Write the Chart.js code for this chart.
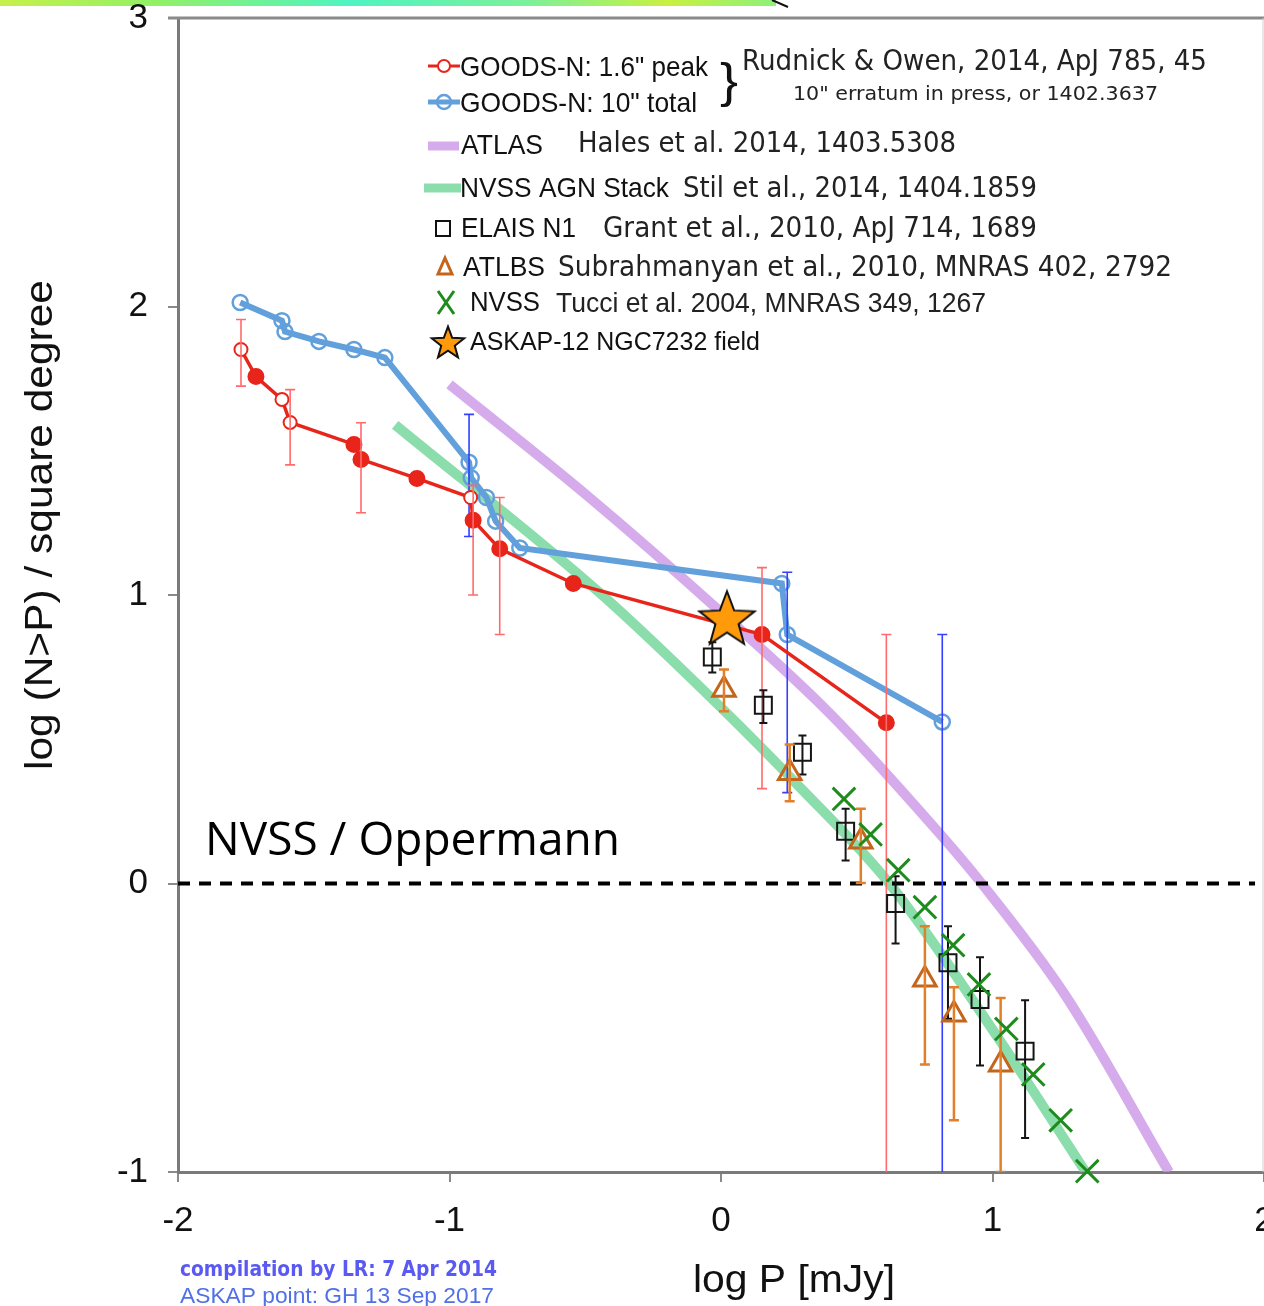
<!DOCTYPE html>
<html>
<head>
<meta charset="utf-8">
<script src="https://cdn.jsdelivr.net/npm/chart.js@4.4.1/dist/chart.umd.min.js"></script>
<style>
  html, body { margin: 0; padding: 0; background: #fff; }
  #wrap { width: 1264px; height: 1306px; }
</style>
</head>
<body>
<div id="wrap"><canvas id="counts" width="1264" height="1306" style="width:1264px;height:1306px"></canvas></div>
<script>
// GOODS-N 1.6" peak (Rudnick & Owen 2014)
const xPeak = [-1.768, -1.713, -1.617, -1.587, -1.352, -1.326, -1.120, -0.922, -0.913, -0.815, -0.544, 0.151, 0.609];
const yPeak = [1.851, 1.757, 1.678, 1.598, 1.522, 1.470, 1.404, 1.338, 1.259, 1.160, 1.040, 0.863, 0.557];
const peakOpen = [1, 0, 1, 1, 0, 0, 0, 1, 0, 0, 0, 0, 0];
const peakHi = [1.955, null, null, 1.712, null, 1.597, null, null, 1.38, 1.338, null, 1.095, 0.863];
const peakLo = [1.724, null, null, 1.451, null, 1.285, null, null, 1.0, 0.863, null, 0.329, -1.2];

// GOODS-N 10" total
const xTotal = [-1.771, -1.617, -1.606, -1.481, -1.352, -1.238, -0.928, -0.920, -0.864, -0.830, -0.741, 0.224, 0.244, 0.815];
const yTotal = [2.014, 1.951, 1.913, 1.879, 1.851, 1.823, 1.460, 1.406, 1.338, 1.256, 1.163, 1.040, 0.863, 0.560];
const totalHi = [null, null, null, null, null, null, 1.626, null, null, null, null, null, 1.079, 0.863];
const totalLo = [null, null, null, null, null, null, 1.203, null, null, null, null, null, 0.315, -1.2];

// ATLAS (Hales et al. 2014) curve
const xAtlas = [-1.0, -0.5, 0, 0.4, 0.78, 0.96, 1.27, 1.65];
const yAtlas = [1.73, 1.35, 0.94, 0.59, 0.2, 0.0, -0.39, -1.0];

// NVSS AGN stack (Stil et al. 2014) curve
const xStack = [-1.2, -0.45, 0, 0.287, 0.62, 1.024, 1.343];
const yStack = [1.59, 1.01, 0.61, 0.337, 0.0, -0.54, -1.0];

// ELAIS N1 (Grant et al. 2010)
const xElais = [-0.032, 0.156, 0.300, 0.459, 0.643, 0.836, 0.954, 1.120];
const yElais = [0.785, 0.618, 0.455, 0.181, -0.069, -0.275, -0.402, -0.581];
const elaisHi = [0.836, 0.670, 0.513, 0.259, 0.025, -0.148, -0.256, -0.405];
const elaisLo = [0.731, 0.556, 0.378, 0.080, -0.208, -0.469, -0.631, -0.882];

// ATLBS (Subrahmanyan et al. 2010)
const xAtlbs = [0.011, 0.253, 0.515, 0.751, 0.858, 1.030];
const yAtlbs = [0.672, 0.383, 0.146, -0.333, -0.454, -0.627];
const atlbsHi = [0.742, 0.482, 0.259, -0.148, -0.36, -0.397];
const atlbsLo = [0.597, 0.285, 0.002, -0.627, -0.821, -1.0];

// NVSS (Tucci et al. 2004)
const xNvss = [0.453, 0.551, 0.653, 0.751, 0.855, 0.950, 1.051, 1.150, 1.251, 1.349];
const yNvss = [0.293, 0.170, 0.046, -0.082, -0.214, -0.350, -0.504, -0.662, -0.821, -0.997];

// ASKAP-12 NGC7232 field
const xAskap = [0.022];
const yAskap = [0.922];

// NVSS / Oppermann level
const xLevel = [-2, 1.967];
const yLevel = [0, 0];

const xTicks = [-2, -1, 0, 1, 2];
const yTicks = [-1, 0, 1, 2, 3];

const RED = '#e8251a', BLUE = '#62a0dc', PURPLE = 'rgba(202,150,230,0.8)', GREEN = 'rgba(110,212,150,0.8)';
const ORANGE = '#c4651c', XGREEN = '#1d8c1d';

const pts = (xs, ys) => xs.map((x, i) => ({ x, y: ys[i] }));

function makeStar(R, ratio) {
    const c = document.createElement('canvas');
    const s = Math.ceil(R * 2 + 6);
    c.width = s; c.height = s;
    const g = c.getContext('2d');
    g.translate(s / 2, s / 2 + R * 0.095);
    g.beginPath();
    for (let k = 0; k < 10; k++) {
        const a = -Math.PI / 2 + k * Math.PI / 5;
        const rr = k % 2 ? R * ratio : R;
        g.lineTo(Math.cos(a) * rr, Math.sin(a) * rr);
    }
    g.closePath();
    g.fillStyle = '#ff9a0a';
    g.fill();
    g.lineWidth = 2;
    g.strokeStyle = '#111';
    g.stroke();
    return c;
}
const bigStar = makeStar(29, 0.42);
const smallStar = makeStar(17, 0.42);

// draw text squeezed/stretched to a given width
function fitText(ctx, txt, x, y, w, font, color, base) {
    ctx.save();
    ctx.font = font;
    ctx.fillStyle = color;
    ctx.textAlign = 'left';
    ctx.textBaseline = base || 'middle';
    const nat = ctx.measureText(txt).width;
    ctx.translate(x, y);
    ctx.scale(w / nat, 1);
    ctx.fillText(txt, 0, 0);
    ctx.restore();
}

function drawErrors(chart, ds) {
    const ctx = chart.ctx, xs = chart.scales.x, ys = chart.scales.y, ca = chart.chartArea;
    ctx.save();
    ctx.beginPath();
    ctx.rect(ca.left, ca.top, ca.right - ca.left, ca.bottom - ca.top);
    ctx.clip();
    ctx.strokeStyle = ds.errColor;
    ctx.lineWidth = ds.errWidth;
    const cap = ds.errCap;
    ds.data.forEach((p, i) => {
        const hi = ds.errHi[i], lo = ds.errLo[i];
        if (hi == null) return;
        const px = xs.getPixelForValue(p.x);
        const y1 = ys.getPixelForValue(hi), y2 = ys.getPixelForValue(lo);
        ctx.beginPath();
        ctx.moveTo(px, y1); ctx.lineTo(px, y2);
        ctx.moveTo(px - cap, y1); ctx.lineTo(px + cap, y1);
        ctx.moveTo(px - cap, y2); ctx.lineTo(px + cap, y2);
        ctx.stroke();
    });
    ctx.restore();
}

function drawLegend(ctx) {
    const narrow = 'px "Liberation Sans Narrow", "Liberation Sans", Arial, sans-serif';
    const arial = 'px "Liberation Sans", Arial, sans-serif';
    const deja = 'px "DejaVu Sans", Verdana, sans-serif';
    ctx.save();
    ctx.lineCap = 'butt';
    // row 1: red
    ctx.strokeStyle = RED; ctx.lineWidth = 3;
    ctx.beginPath(); ctx.moveTo(428, 66); ctx.lineTo(460, 66); ctx.stroke();
    ctx.fillStyle = '#fff'; ctx.lineWidth = 2;
    ctx.beginPath(); ctx.arc(444, 66, 6, 0, Math.PI * 2); ctx.fill(); ctx.stroke();
    // row 2: blue
    ctx.strokeStyle = BLUE; ctx.lineWidth = 5;
    ctx.beginPath(); ctx.moveTo(428, 102); ctx.lineTo(460, 102); ctx.stroke();
    ctx.lineWidth = 2.5;
    ctx.beginPath(); ctx.arc(444, 102, 7, 0, Math.PI * 2); ctx.stroke();
    // row 3: purple bar
    ctx.strokeStyle = PURPLE; ctx.lineWidth = 9;
    ctx.beginPath(); ctx.moveTo(428, 146); ctx.lineTo(459, 146); ctx.stroke();
    // row 4: green bar
    ctx.strokeStyle = GREEN;
    ctx.beginPath(); ctx.moveTo(424, 188); ctx.lineTo(461, 188); ctx.stroke();
    // row 5: square
    ctx.strokeStyle = '#111'; ctx.lineWidth = 2;
    ctx.strokeRect(436, 221, 14, 15);
    // row 6: triangle
    ctx.strokeStyle = ORANGE; ctx.lineWidth = 3;
    ctx.beginPath(); ctx.moveTo(445, 258); ctx.lineTo(452, 274); ctx.lineTo(438, 274); ctx.closePath(); ctx.stroke();
    // row 7: green X
    ctx.strokeStyle = XGREEN; ctx.lineWidth = 3;
    ctx.beginPath(); ctx.moveTo(438, 291); ctx.lineTo(454, 314); ctx.moveTo(454, 291); ctx.lineTo(438, 314); ctx.stroke();
    // row 8: star
    ctx.drawImage(smallStar, 448 - smallStar.width / 2, 342 - smallStar.height / 2);
    ctx.restore();

    fitText(ctx, 'GOODS-N: 1.6" peak', 460, 68, 248, '28' + narrow, '#111');
    fitText(ctx, 'GOODS-N: 10" total', 460, 104, 237, '28' + narrow, '#111');
    fitText(ctx, '}', 720, 84, 18, '48' + arial, '#111');
    fitText(ctx, 'Rudnick & Owen, 2014, ApJ 785, 45', 742, 63, 465, '28' + deja, '#222');
    fitText(ctx, '10" erratum in press, or 1402.3637', 793, 95, 365, '20' + deja, '#222');
    fitText(ctx, 'ATLAS', 461, 147, 82, '27' + arial, '#111');
    fitText(ctx, 'Hales et al. 2014, 1403.5308', 578, 145, 378, '28' + deja, '#222');
    fitText(ctx, 'NVSS AGN Stack', 460, 189, 209, '28' + narrow, '#111');
    fitText(ctx, 'Stil et al., 2014, 1404.1859', 683, 190, 354, '28' + deja, '#222');
    fitText(ctx, 'ELAIS N1', 461, 230, 115, '27' + arial, '#111');
    fitText(ctx, 'Grant et al., 2010, ApJ 714, 1689', 603, 230, 434, '28' + deja, '#222');
    fitText(ctx, 'ATLBS', 463, 269, 82, '27' + arial, '#111');
    fitText(ctx, 'Subrahmanyan et al., 2010, MNRAS 402, 2792', 558, 269, 614, '28' + deja, '#222');
    fitText(ctx, 'NVSS', 470, 304, 70, '27' + arial, '#111');
    fitText(ctx, 'Tucci et al. 2004, MNRAS 349, 1267', 556, 304, 430, '28' + narrow, '#222');
    fitText(ctx, 'ASKAP-12 NGC7232 field', 470, 343, 290, '25' + arial, '#111');
}

const decor = {
    id: 'decor',
    beforeDraw(chart) {
        const ctx = chart.ctx;
        ctx.save();
        ctx.fillStyle = '#fff';
        ctx.fillRect(0, 0, chart.width, chart.height);
        // strip left over from the slide above
        const g = ctx.createLinearGradient(0, 0, 776, 0);
        g.addColorStop(0, '#c6f04a');
        g.addColorStop(0.2, '#92f066');
        g.addColorStop(0.45, '#4ef4c2');
        g.addColorStop(0.68, '#7cf09a');
        g.addColorStop(0.86, '#c8f040');
        g.addColorStop(1, '#8ef07a');
        ctx.fillStyle = g;
        ctx.fillRect(0, 0, 776, 6);
        ctx.strokeStyle = '#111';
        ctx.lineWidth = 2;
        ctx.beginPath(); ctx.moveTo(772, 0); ctx.lineTo(788, 7); ctx.stroke();
        ctx.restore();
    },
    afterDatasetDraw(chart, args) {
        const ds = chart.data.datasets[args.index];
        if (ds.errHi) drawErrors(chart, ds);
    },
    afterDraw(chart) {
        const ctx = chart.ctx, ca = chart.chartArea;
        ctx.save();
        ctx.strokeStyle = '#8a8a8a';
        ctx.lineWidth = 3;
        ctx.beginPath(); ctx.moveTo(ca.left - 10, ca.top); ctx.lineTo(ca.right, ca.top); ctx.stroke();
        ctx.strokeStyle = '#d0d0d0';
        ctx.lineWidth = 1;
        ctx.beginPath(); ctx.moveTo(ca.right - 1, ca.top); ctx.lineTo(ca.right - 1, ca.bottom); ctx.stroke();
        ctx.restore();

        drawLegend(ctx);

        fitText(ctx, 'NVSS / Oppermann', 205, 855, 415, '46px "Open Sans", "Noto Sans", sans-serif', '#000', 'alphabetic');
        fitText(ctx, 'log P [mJy]', 693, 1292, 202, '38px "Liberation Sans", Arial, sans-serif', '#111', 'alphabetic');

        ctx.save();
        ctx.translate(52, 770);
        ctx.rotate(-Math.PI / 2);
        fitText(ctx, 'log (N>P) / square degree', 0, 0, 490, '38px "Liberation Sans", Arial, sans-serif', '#111', 'alphabetic');
        ctx.restore();

        fitText(ctx, 'compilation by LR: 7 Apr 2014', 180, 1276, 317, 'bold 21px "DejaVu Sans", sans-serif', '#5a5af2', 'alphabetic');
        fitText(ctx, 'ASKAP point: GH 13 Sep 2017', 180, 1303, 314, '22px "Liberation Sans", Arial, sans-serif', '#4f70e6', 'alphabetic');
    }
};

const tickFont = { family: '"Liberation Sans", Arial, sans-serif', size: 35 };

new Chart(document.getElementById('counts'), {
    type: 'scatter',
    data: {
        datasets: [
            {
                label: 'ASKAP-12 NGC7232 field',
                data: pts(xAskap, yAskap),
                pointStyle: bigStar,
                pointRadius: 29,
                clip: false
            },
            {
                label: 'NVSS',
                data: pts(xNvss, yNvss),
                pointStyle: 'crossRot',
                pointRadius: 16,
                borderColor: XGREEN,
                borderWidth: 3,
                clip: false
            },
            {
                label: 'ATLBS',
                data: pts(xAtlbs, yAtlbs),
                pointStyle: 'triangle',
                pointRadius: 13,
                borderColor: ORANGE,
                backgroundColor: 'rgba(0,0,0,0)',
                borderWidth: 3,
                errHi: atlbsHi, errLo: atlbsLo, errColor: '#e27f2a', errWidth: 2.5, errCap: 5,
                clip: false
            },
            {
                label: 'ELAIS N1',
                data: pts(xElais, yElais),
                pointStyle: 'rect',
                pointRadius: 12,
                borderColor: '#151515',
                backgroundColor: 'rgba(0,0,0,0)',
                borderWidth: 2,
                errHi: elaisHi, errLo: elaisLo, errColor: '#151515', errWidth: 2, errCap: 4,
                clip: false
            },
            {
                label: 'GOODS-N: 1.6" peak',
                data: pts(xPeak, yPeak),
                showLine: true,
                borderColor: RED,
                borderWidth: 3.5,
                pointRadius: peakOpen.map(o => o ? 6.5 : 7.5),
                pointBackgroundColor: peakOpen.map(o => o ? '#fff' : RED),
                pointBorderColor: RED,
                pointBorderWidth: 2,
                errHi: peakHi, errLo: peakLo, errColor: '#ff6b6b', errWidth: 1.6, errCap: 5
            },
            {
                label: 'GOODS-N: 10" total',
                data: pts(xTotal, yTotal),
                showLine: true,
                borderColor: BLUE,
                borderWidth: 6,
                pointRadius: 7.5,
                pointBackgroundColor: 'rgba(255,255,255,0)',
                pointBorderColor: BLUE,
                pointBorderWidth: 2.5,
                errHi: totalHi, errLo: totalLo, errColor: '#3340ff', errWidth: 1.6, errCap: 5
            },
            {
                label: 'NVSS / Oppermann',
                data: pts(xLevel, yLevel),
                showLine: true,
                borderColor: '#000',
                borderWidth: 4,
                borderDash: [12, 9],
                pointRadius: 0
            },
            {
                label: 'NVSS AGN Stack',
                data: pts(xStack, yStack),
                showLine: true,
                borderColor: GREEN,
                borderWidth: 10,
                cubicInterpolationMode: 'monotone',
                pointRadius: 0
            },
            {
                label: 'ATLAS',
                data: pts(xAtlas, yAtlas),
                showLine: true,
                borderColor: PURPLE,
                borderWidth: 10,
                cubicInterpolationMode: 'monotone',
                pointRadius: 0
            }
        ]
    },
    options: {
        responsive: false,
        animation: false,
        events: [],
        layout: { autoPadding: false, padding: { top: 18, left: 0, right: 0, bottom: 0 } },
        plugins: { legend: { display: false }, tooltip: { enabled: false } },
        scales: {
            x: {
                type: 'linear',
                min: xTicks[0],
                max: xTicks[xTicks.length - 1],
                afterBuildTicks: s => { s.ticks = xTicks.map(v => ({ value: v })); },
                ticks: { color: '#111', font: tickFont, padding: 18, maxRotation: 0, autoSkip: false },
                grid: { drawOnChartArea: false, tickLength: 10, color: '#8a8a8a', lineWidth: 2 },
                border: { color: '#7a7a7a', width: 3 },
                afterFit: s => { s.height = 134; s.paddingLeft = 0; s.paddingRight = 0; }
            },
            y: {
                type: 'linear',
                min: yTicks[0],
                max: yTicks[yTicks.length - 1],
                afterBuildTicks: s => { s.ticks = yTicks.map(v => ({ value: v })); },
                ticks: { color: '#111', font: tickFont, padding: 20, autoSkip: false },
                grid: { drawOnChartArea: false, tickLength: 10, color: '#8a8a8a', lineWidth: 2 },
                border: { color: '#7a7a7a', width: 3 },
                afterFit: s => { s.width = 178; s.paddingTop = 0; s.paddingBottom = 0; }
            }
        }
    },
    plugins: [decor]
});
</script>
</body>
</html>
